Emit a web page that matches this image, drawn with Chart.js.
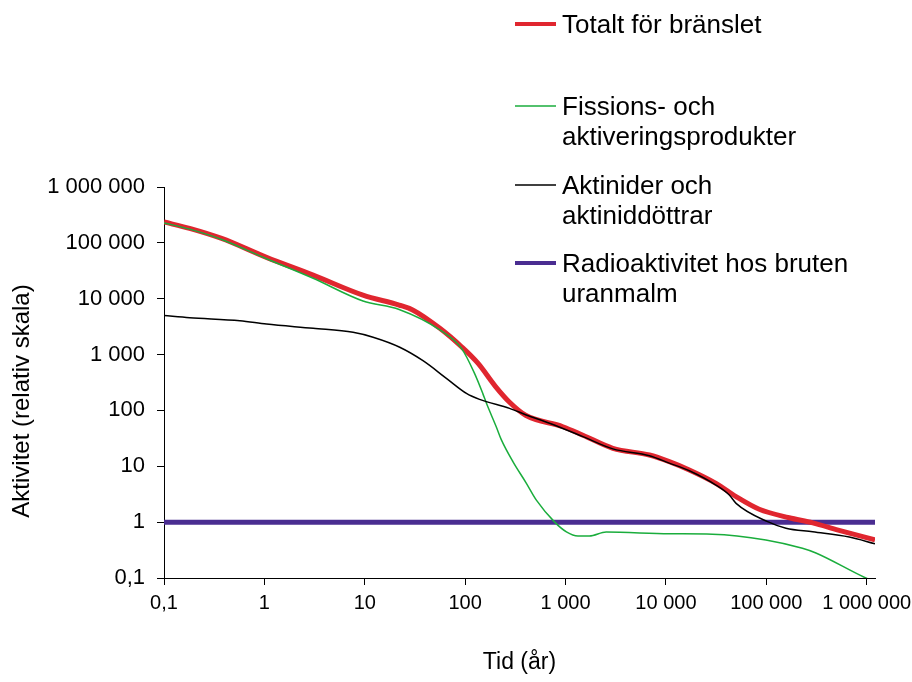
<!DOCTYPE html>
<html>
<head>
<meta charset="utf-8">
<script src="https://cdn.jsdelivr.net/npm/chart.js@4/dist/chart.umd.min.js"></script>
<style>
  html, body { margin: 0; padding: 0; background: #fff; }
  #wrap { width: 912px; height: 682px; position: relative; }
</style>
</head>
<body>
<div id="wrap"><canvas id="chart1"></canvas></div>
<script>
// tid (år) och aktivitet för varje kurva, avläst ur originalbilden
const totalTid = [0.1, 0.18, 0.375, 1.05, 3.06, 9.6, 22, 30, 56, 92, 134, 200, 277, 400, 940, 1490, 2960, 6850, 10800, 17100, 31500, 50000, 85000, 169000, 290000, 520000, 1210000];
const totalAkt = [236000, 182000, 120000, 55000, 26500, 11600, 7700, 6300, 2950, 1380, 700, 270, 140, 82, 51, 36, 21, 15.9, 12.1, 8.6, 4.95, 2.86, 1.7, 1.2, 0.97, 0.72, 0.48];

const fissionTid = [0.1, 0.18, 0.375, 1.05, 3.06, 9.6, 22, 56, 92, 124, 150, 163, 204, 229, 300, 406, 510, 780, 1020, 1330, 1730, 2540, 10800, 29000, 99000, 229000, 312000, 980000, 1210000];
const fissionAkt = [228000, 176000, 115000, 52000, 23200, 9100, 6400, 2760, 1290, 460, 200, 134, 51, 30, 12, 5.0, 2.5, 1.0, 0.67, 0.565, 0.565, 0.665, 0.62, 0.61, 0.48, 0.34, 0.28, 0.1, 0.086];

const aktinidTid = [0.1, 0.18, 0.57, 1.05, 3.06, 7.65, 12.1, 22.3, 38, 65, 103, 139, 277, 406, 693, 1490, 2960, 6850, 10800, 17100, 31500, 42800, 50000, 103000, 157000, 290000, 670000, 1210000];
const aktinidAkt = [5000, 4570, 4040, 3520, 2950, 2500, 2040, 1350, 776, 376, 202, 158, 109, 83, 59, 34, 20.5, 15.5, 11.4, 8.3, 4.6, 3.06, 2.17, 1.02, 0.78, 0.67, 0.54, 0.41];

const uranTid = [0.1, 1210000];
const uranAkt = [1, 1];

const xTicks = [0.1, 1, 10, 100, 1000, 10000, 100000, 1000000];
const xLabels = ['0,1', '1', '10', '100', '1 000', '10 000', '100 000', '1 000 000'];
const yTicks = [0.1, 1, 10, 100, 1000, 10000, 100000, 1000000];
const yLabels = ['0,1', '1', '10', '100', '1 000', '10 000', '100 000', '1 000 000'];

const legendItems = [
  { lines: ['Totalt för bränslet'], color: '#e0262f', width: 4 },
  { lines: ['Fissions- och', 'aktiveringsprodukter'], color: '#1aad3c', width: 1.5 },
  { lines: ['Aktinider och', 'aktiniddöttrar'], color: '#000000', width: 1.5 },
  { lines: ['Radioaktivitet hos bruten', 'uranmalm'], color: '#4a2d91', width: 4 }
];
const legendY = [24, 106, 185, 263];

const FONT = "'Liberation Sans', Arial, sans-serif";

function pts(xs, ys) {
  return xs.map((x, i) => ({ x: x, y: ys[i] }));
}

const extras = {
  id: 'extras',
  afterDraw(chart) {
    const ctx = chart.ctx;
    const area = chart.chartArea;
    ctx.save();
    ctx.fillStyle = '#000';
    // axeltitlar
    ctx.font = '23px ' + FONT;
    ctx.textAlign = 'center';
    ctx.textBaseline = 'middle';
    ctx.fillText('Tid (år)', (area.left + area.right) / 2, 663);
    ctx.save();
    ctx.translate(22, 401);
    ctx.rotate(-Math.PI / 2);
    ctx.font = '24px ' + FONT;
    ctx.fillText('Aktivitet (relativ skala)', 0, 0);
    ctx.restore();
    // förklaring
    ctx.font = '26px ' + FONT;
    ctx.textAlign = 'left';
    legendItems.forEach((item, i) => {
      const y = legendY[i];
      ctx.strokeStyle = item.color;
      ctx.lineWidth = item.width;
      ctx.beginPath();
      ctx.moveTo(515, y);
      ctx.lineTo(556, y);
      ctx.stroke();
      item.lines.forEach((t, j) => {
        ctx.fillText(t, 562, y + 2 + j * 30);
      });
    });
    ctx.restore();
  }
};

new Chart(document.getElementById('chart1'), {
  type: 'line',
  data: {
    datasets: [
      { label: 'Aktinider och aktiniddöttrar', data: pts(aktinidTid, aktinidAkt), borderColor: '#000000', borderWidth: 1.5, order: 1 },
      { label: 'Fissions- och aktiveringsprodukter', data: pts(fissionTid, fissionAkt), borderColor: '#1aad3c', borderWidth: 1.5, order: 2 },
      { label: 'Totalt för bränslet', data: pts(totalTid, totalAkt), borderColor: '#e0262f', borderWidth: 5, order: 3 },
      { label: 'Radioaktivitet hos bruten uranmalm', data: pts(uranTid, uranAkt), borderColor: '#4a2d91', borderWidth: 5, order: 4 }
    ]
  },
  options: {
    responsive: true,
    maintainAspectRatio: false,
    animation: false,
    layout: { padding: { top: 187, right: 37, bottom: 0, left: 0 } },
    elements: {
      point: { radius: 0 },
      line: { cubicInterpolationMode: 'monotone', fill: false }
    },
    plugins: { legend: { display: false }, tooltip: { enabled: false } },
    scales: {
      x: {
        type: 'logarithmic',
        min: 0.1,
        max: 1210000,
        afterBuildTicks: (s) => { s.ticks = xTicks.map(v => ({ value: v })); },
        afterFit: (s) => { s.height = 104; s.paddingLeft = 0; s.paddingRight = 0; },
        grid: { display: true, drawOnChartArea: false, drawTicks: true, tickLength: 7, color: '#000' },
        border: { display: true, color: '#000', width: 1 },
        ticks: {
          color: '#000',
          font: { family: FONT, size: 20 },
          padding: 6,
          maxRotation: 0,
          autoSkip: false,
          callback: (v, i) => xLabels[i]
        }
      },
      y: {
        type: 'logarithmic',
        min: 0.1,
        max: 1000000,
        afterBuildTicks: (s) => { s.ticks = yTicks.map(v => ({ value: v })); },
        afterFit: (s) => { s.width = 164; s.paddingTop = 0; s.paddingBottom = 0; },
        grid: { display: true, drawOnChartArea: false, drawTicks: true, tickLength: 7, color: '#000' },
        border: { display: true, color: '#000', width: 1 },
        ticks: {
          color: '#000',
          font: { family: FONT, size: 22 },
          padding: 12,
          autoSkip: false,
          callback: (v, i) => yLabels[i]
        }
      }
    }
  },
  plugins: [extras]
});
</script>
</body>
</html>
